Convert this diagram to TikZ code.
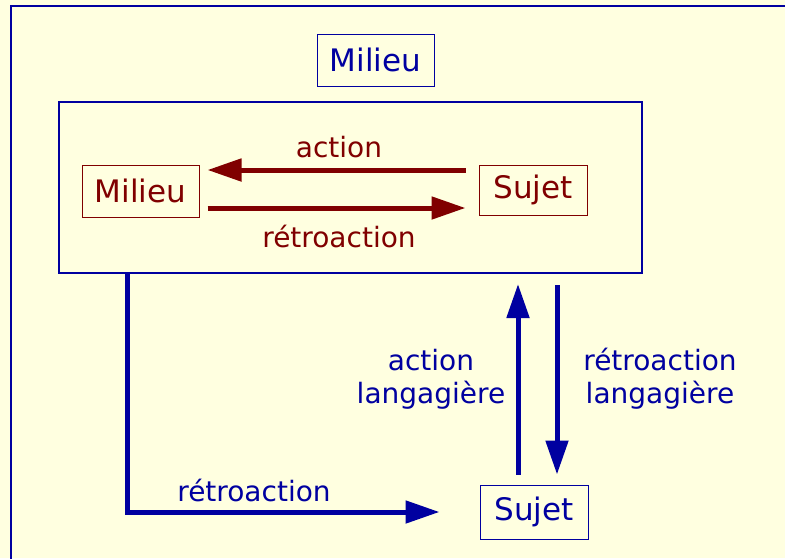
\documentclass[tikz,border=0pt]{standalone}
\usepackage{fontspec}
\setmainfont{DejaVu Sans}
\usetikzlibrary{arrows.meta}
\definecolor{paper}{RGB}{255,255,224}
\definecolor{navyb}{RGB}{0,0,160}
\definecolor{maroonr}{RGB}{128,0,0}
\tikzset{
  lbl/.style={font=\fontsize{28}{33}\selectfont, inner sep=0pt, align=center},
  boxlbl/.style={font=\fontsize{31}{36}\selectfont, inner sep=0pt, align=center},
  bbox/.style={draw=navyb, line width=1pt, text=navyb, boxlbl},
  rbox/.style={draw=maroonr, line width=1pt, text=maroonr, boxlbl},
  barrow/.style={draw=navyb, line width=5pt, -{Triangle[length=34pt,width=22pt]}},
  rarrow/.style={draw=maroonr, line width=5pt, -{Triangle[length=34pt,width=22pt]}},
}
\begin{document}
\begin{tikzpicture}[x=1pt,y=-1pt]
  \useasboundingbox (0,0) rectangle (785,558);
  \clip (0,0) rectangle (785,558);
  \fill[paper] (0,0) rectangle (785,558);
  % outer frame, running past the right and bottom edges
  \draw[navyb, line width=2.8pt] (11,6) rectangle (820,600);

  % surrounding milieu
  \node[bbox, minimum width=117pt, minimum height=52pt] (milieuT) at (375.5,60) {Milieu};
  \node[draw=navyb, line width=2pt, minimum width=583pt, minimum height=171pt, inner sep=0pt] (inner) at (350.5,187.5) {};

  % inner pair
  \node[rbox, minimum width=117pt, minimum height=52pt] (milieuR) at (140.5,191) {Milieu};
  \node[rbox, minimum width=108pt, minimum height=50pt] (sujetR) at (533,190) {Sujet};
  \coordinate (ya) at (0,170);
  \coordinate (yr) at (0,208);
  \draw[rarrow, shorten <=13pt, shorten >=8pt] (sujetR.west |- ya) -- (milieuR.east |- ya)
    node[midway, above=10pt, text=maroonr, lbl] (lact) {action};
  \draw[rarrow, shorten <=8pt, shorten >=13pt] (milieuR.east |- yr) -- (sujetR.west |- yr)
    node[midway, below=15pt, text=maroonr, lbl] (lretro) {rétroaction};

  % outer subject
  \node[bbox, minimum width=108pt, minimum height=54pt] (sujetB) at (534,512) {Sujet};
  \coordinate (lx) at (127,0);
  \coordinate (ux) at (518,0);
  \coordinate (dx) at (557,0);
  \draw[barrow, shorten >=40pt] (inner.south -| lx) |- (sujetB.west);
  \node[lbl, text=navyb] (lretroB) at (254,490) {rétroaction};
  \draw[barrow, shorten <=10pt, shorten >=10pt] (sujetB.north -| ux) -- (inner.south -| ux);
  \draw[barrow, shorten <=11pt, shorten >=10pt] (inner.south -| dx) -- (sujetB.north -| dx);
  \node[lbl, text=navyb] (lactL) at (431,379) {action\\langagière};
  \node[lbl, text=navyb] (lretroL) at (660,379) {rétroaction\\langagière};
\end{tikzpicture}
\end{document}
